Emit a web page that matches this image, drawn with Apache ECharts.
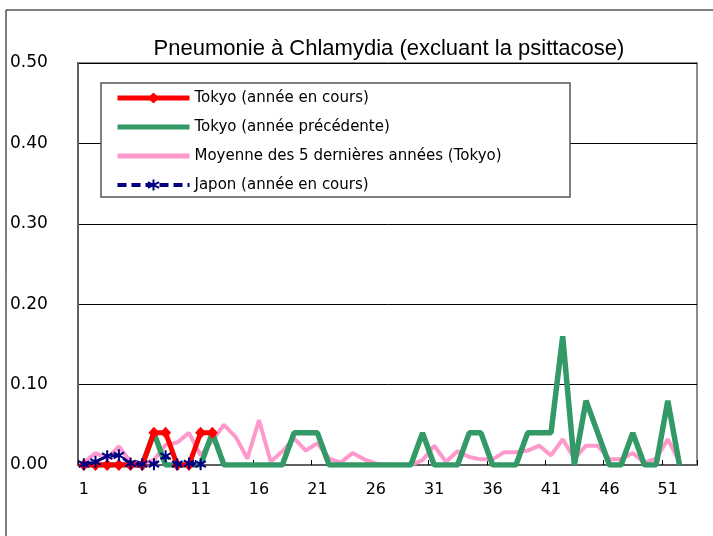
<!DOCTYPE html>
<html>
<head>
<meta charset="utf-8">
<title>Pneumonie à Chlamydia</title>
<script src="https://cdn.jsdelivr.net/npm/echarts@6/dist/echarts.min.js"></script>
<style>
	html, body { margin: 0; padding: 0; background: #fff; }
	#chart { width: 713px; height: 536px; }
</style>
</head>
<body>
<div id="chart"></div>
<script>
	// semaines 1..53
	var weeks = [];
	for (var w = 1; w <= 53; w++) weeks.push(String(w));

	var yTicks = [0, 0.1, 0.2, 0.3, 0.4, 0.5];

	// Tokyo (année en cours)
	var tokyoCurrent = [0, 0, 0, 0, 0, 0, 0.04, 0.04, 0, 0, 0.04, 0.04];

	// Tokyo (année précédente)
	var tokyoPrevious = [0, 0, 0, 0, 0, 0, 0.04, 0, 0, 0, 0, 0.04, 0, 0, 0, 0, 0, 0,
		0.04, 0.04, 0.04, 0, 0, 0, 0, 0, 0, 0, 0, 0.04, 0, 0, 0, 0.04, 0.04, 0, 0, 0,
		0.04, 0.04, 0.04, 0.16, 0, 0.08, 0.04, 0, 0, 0.04, 0, 0, 0.08, 0];

	// Moyenne des 5 dernières années (Tokyo)
	var tokyoAvg5 = [0.003, 0.015, 0.008, 0.023, 0.004, 0.002, 0.006, 0.025, 0.028, 0.04,
		0.012, 0.03, 0.05, 0.035, 0.008, 0.056, 0.004, 0.017, 0.033, 0.018,
		0.027, 0.008, 0.003, 0.015, 0.007, 0.002, 0, 0, 0, 0.006,
		0.024, 0.004, 0.017, 0.01, 0.007, 0.007, 0.016, 0.016, 0.018, 0.024,
		0.012, 0.032, 0.008, 0.024, 0.024, 0.007, 0.007, 0.015, 0.003, 0.008,
		0.032, 0.004];

	// Japon (année en cours)
	var japanCurrent = [0.001, 0.004, 0.011, 0.012, 0.002, 0.001, 0.001, 0.011, 0.001, 0.002, 0.001];

	var asterisk = 'path://M0,-6L0,6M-5.2,-3L5.2,3M-5.2,3L5.2,-3';
	var barIcon = 'path://M0,0L72,0L72,5L0,5Z';

	var chart = echarts.init(document.getElementById('chart'));
	chart.setOption({
		animation: false,
		textStyle: { fontFamily: 'DejaVu Sans' },
		title: {
			text: 'Pneumonie à Chlamydia (excluant la psittacose)',
			left: 384,
			textAlign: 'center',
			top: 33,
			textStyle: { fontFamily: 'Liberation Sans', fontSize: 22, fontWeight: 'normal', color: '#000' }
		},
		graphic: [
			{
				type: 'rect',
				shape: { x: 6, y: 10, width: 720, height: 540 },
				style: { fill: 'none', stroke: '#000', lineWidth: 1 },
				silent: true,
				z: 1
			},
			{
				type: 'rect',
				shape: { x: 101, y: 83, width: 469, height: 114 },
				style: { fill: '#fff', stroke: '#555', lineWidth: 1.5 },
				silent: true,
				z: 8
			}
		],
		legend: {
			orient: 'vertical',
			left: 101,
			top: 83,
			padding: [7, 10, 6, 14],
			itemWidth: 72,
			itemHeight: 14,
			itemGap: 13,
			z: 10,
			data: [
				{ name: 'Tokyo (année en cours)', lineStyle: { width: 5 } },
				{ name: 'Tokyo (année précédente)', icon: barIcon },
				{ name: 'Moyenne des 5 dernières années (Tokyo)', icon: barIcon },
				{ name: 'Japon (année en cours)', lineStyle: { width: 4 } }
			],
			textStyle: { fontFamily: 'DejaVu Sans', fontSize: 15, color: '#000', lineHeight: 16 }
		},
		grid: {
			left: 78,
			right: 16,
			top: 63,
			bottom: 71,
			show: true,
			borderColor: '#8c8c8c',
			borderWidth: 2
		},
		xAxis: {
			type: 'category',
			data: weeks,
			boundaryGap: true,
			axisLine: { lineStyle: { color: '#606060', width: 2 } },
			axisTick: { show: true, inside: true, length: 5, interval: 4, lineStyle: { color: '#000' } },
			axisLabel: { interval: 4, color: '#000', fontSize: 16, margin: 17 }
		},
		yAxis: {
			type: 'value',
			min: yTicks[0],
			max: yTicks[yTicks.length - 1],
			interval: 0.1,
			axisLine: { show: true, lineStyle: { color: '#606060', width: 2 } },
			axisTick: { show: false },
			splitLine: { lineStyle: { color: '#000', width: 1 } },
			axisLabel: {
				color: '#000',
				fontSize: 17,
				align: 'left',
				margin: 68,
				formatter: function (v) { return v.toFixed(2); }
			}
		},
		series: [
			{
				name: 'Moyenne des 5 dernières années (Tokyo)',
				type: 'line',
				data: tokyoAvg5,
				symbol: 'none',
				z: 2,
				lineStyle: { color: '#ff99cc', width: 4 },
				itemStyle: { color: '#ff99cc' }
			},
			{
				name: 'Tokyo (année précédente)',
				type: 'line',
				data: tokyoPrevious,
				symbol: 'none',
				z: 3,
				lineStyle: { color: '#339966', width: 5.5 },
				itemStyle: { color: '#339966' }
			},
			{
				name: 'Tokyo (année en cours)',
				type: 'line',
				data: tokyoCurrent,
				symbol: 'diamond',
				symbolSize: [11, 12],
				showAllSymbol: true,
				z: 4,
				lineStyle: { color: '#ff0000', width: 5 },
				itemStyle: { color: '#ff0000' }
			},
			{
				name: 'Japon (année en cours)',
				type: 'line',
				data: japanCurrent,
				symbol: asterisk,
				symbolSize: 12,
				symbolKeepAspect: true,
				showAllSymbol: true,
				z: 5,
				lineStyle: { color: '#000080', width: 3, type: [9, 5] },
				itemStyle: { color: '#000080', borderColor: '#000080', borderWidth: 2 }
			}
		]
	});
</script>
</body>
</html>
